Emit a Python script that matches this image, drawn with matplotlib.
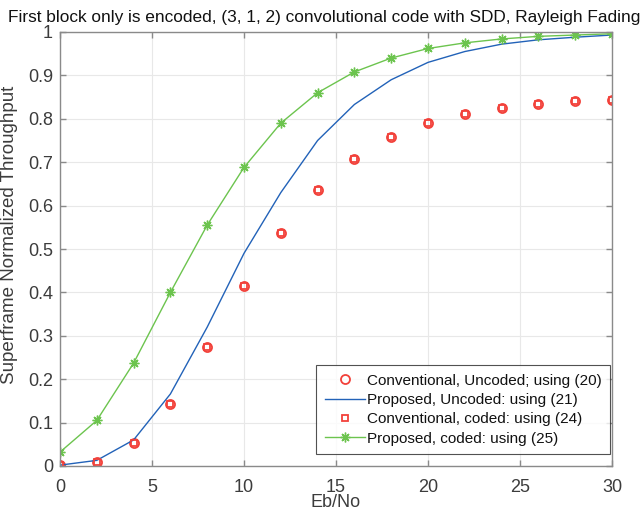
import matplotlib
matplotlib.use("Agg")
import matplotlib.pyplot as plt

ebno = [0, 2, 4, 6, 8, 10, 12, 14, 16, 18, 20, 22, 24, 26, 28, 30]
conv_uncoded = [0.002, 0.010, 0.052, 0.142, 0.274, 0.414, 0.538, 0.637, 0.708, 0.758, 0.790, 0.812, 0.826, 0.835, 0.840, 0.843]
conv_coded = [0.002, 0.010, 0.052, 0.142, 0.274, 0.414, 0.538, 0.637, 0.708, 0.758, 0.790, 0.812, 0.826, 0.835, 0.840, 0.843]
prop_uncoded = [0.002, 0.013, 0.060, 0.166, 0.320, 0.490, 0.630, 0.750, 0.833, 0.890, 0.930, 0.955, 0.972, 0.982, 0.988, 0.993]
prop_coded = [0.032, 0.105, 0.237, 0.400, 0.555, 0.688, 0.790, 0.860, 0.908, 0.940, 0.962, 0.975, 0.984, 0.990, 0.993, 0.996]

plt.rcParams['font.family'] = ['Liberation Sans', 'DejaVu Sans']

fig = plt.figure(figsize=(6.43, 5.16), dpi=100)
ax = fig.add_axes([60/643, 50/516, 552/643, 434/516])

red = '#F2413A'
blue = '#2262B8'
green = '#6CC44E'
axcol = '#8A8A8A'
txtcol = '#3C3C3C'

ax.plot(ebno, conv_uncoded, 'o', mfc='none', mec=red, ms=6.5, mew=1.3, ls='none',
        label='Conventional, Uncoded; using (20)')
ax.plot(ebno, prop_uncoded, '-', color=blue, lw=1.0, label='Proposed, Uncoded: using (21)')
ax.plot(ebno, conv_coded, 's', mfc='none', mec=red, ms=5, mew=1.3, ls='none',
        label='Conventional, coded: using (24)')
ax.plot(ebno, prop_coded, '-', marker=(8, 2, 0), color=green, lw=1.0, ms=7, mew=1.0,
        label='Proposed, coded: using (25)')

ax.set_xlim(0, 30)
ax.set_ylim(0, 1)
ax.set_xticks([0, 5, 10, 15, 20, 25, 30])
ax.set_yticks([0, 0.1, 0.2, 0.3, 0.4, 0.5, 0.6, 0.7, 0.8, 0.9, 1])
ax.set_yticklabels(['0', '0.1', '0.2', '0.3', '0.4', '0.5', '0.6', '0.7', '0.8', '0.9', '1'])
ax.grid(True, color='#E8E8E8', lw=0.8)
ax.set_axisbelow(True)
for s in ax.spines.values():
    s.set_color(axcol)
    s.set_linewidth(1.0)
ax.tick_params(direction='in', labelsize=13, colors=axcol, labelcolor=txtcol,
               length=4, width=1.0, top=True, right=True)
ax.tick_params(axis='x', pad=9)
ax.tick_params(axis='y', pad=5)
ax.set_xlabel('Eb/No', fontsize=13, color=txtcol, labelpad=-1)
ax.set_ylabel('Superframe Normalized Throughput', fontsize=13.5, color=txtcol)
ax.yaxis.set_label_coords(-0.076, 0.532)
fig.text(324/643, 1 - 17/516,
         'First block only is encoded, (3, 1, 2) convolutional code with SDD, Rayleigh Fading',
         fontsize=12.4, color='#111111', ha='center', va='center')

leg = ax.legend(loc='lower right', bbox_to_anchor=(0.9964, 0.0276), fontsize=11,
                frameon=True, fancybox=False, edgecolor='#262626', handlelength=2.6,
                borderpad=0.55, labelspacing=0.35, handletextpad=0.15, borderaxespad=0)
leg.get_frame().set_linewidth(0.8)
for t in leg.get_texts():
    t.set_color('#111111')

fig.savefig('out.png', dpi=100)
